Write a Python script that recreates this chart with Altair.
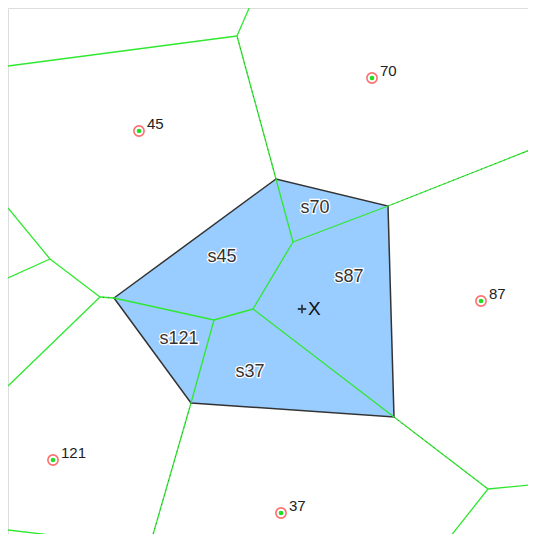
import altair as alt
import pandas as pd

# Data sites (natural neighbours) in map units
site_x = [139, 372, 481, 53, 281]
site_y = [131, 78, 301, 460, 513]
site_lab = ["45", "70", "87", "121", "37"]

# Query location X
qx = [302]
qy = [309]

# New Voronoi cell of X (stolen area polygon)
poly_x = [114, 276, 388, 394, 191]
poly_y = [298, 179, 206, 417, 403]

# Original Voronoi edges
seg_x1 = [276, 293, 293, 253, 253, 214, 214, 276, 237, 237, 388, 394, 488, 488, 114, 100, 50, 50, 100, 191, 8]
seg_y1 = [179, 242, 242, 309, 309, 320, 320, 179, 36, 36, 206, 417, 489, 489, 298, 297, 259, 259, 297, 403, 530]
seg_x2 = [293, 388, 253, 394, 214, 114, 191, 237, 250, 8, 540, 488, 540, 446, 100, 50, 8, 8, 8, 150, 110]
seg_y2 = [242, 206, 309, 417, 320, 298, 403, 36, 6, 66, 146, 489, 484, 542, 297, 259, 208, 278, 386, 545, 542]

# Edges shown with dark dots
dot_x1 = [276, 388, 394, 191, 114]
dot_y1 = [179, 206, 417, 403, 298]
dot_x2 = [237, 540, 488, 150, 100]
dot_y2 = [36, 146, 489, 545, 297]

# Stolen-area labels
cell_lab = ["s70", "s45", "s87", "s121", "s37"]
cell_x = [315, 222, 349, 179, 250]
cell_y = [208, 257, 277, 339, 372]

xs = alt.Scale(domain=[8, 528], nice=False, zero=False)
ys = alt.Scale(domain=[8, 534], nice=False, zero=False, reverse=True)

sites = pd.DataFrame({"x": site_x, "y": site_y, "lab": site_lab})
poly = pd.DataFrame({"x": poly_x + poly_x[:1], "y": poly_y + poly_y[:1],
                     "o": list(range(len(poly_x) + 1))})
segs = pd.DataFrame({"x": seg_x1, "y": seg_y1, "x2": seg_x2, "y2": seg_y2})
dots = pd.DataFrame({"x": dot_x1, "y": dot_y1, "x2": dot_x2, "y2": dot_y2})
cells = pd.DataFrame({"x": cell_x, "y": cell_y, "lab": cell_lab})
q = pd.DataFrame({"x": qx, "y": qy, "lab": ["X"]})

X = lambda: alt.X("x:Q", scale=xs, axis=None)
Y = lambda: alt.Y("y:Q", scale=ys, axis=None)

polygon = alt.Chart(poly).mark_line(
    fill="#99CCFF", stroke="#333333", strokeWidth=1.5, clip=True, interpolate="linear"
).encode(x=X(), y=Y(), order="o:Q")

green = alt.Chart(segs).mark_rule(color="#2FE82F", strokeWidth=1.3, clip=True).encode(
    x=X(), y=Y(), x2="x2:Q", y2="y2:Q")

dotted = alt.Chart(dots).mark_rule(color="#333333", strokeWidth=1, strokeDash=[1, 4],
                                   opacity=0.55, clip=True).encode(
    x=X(), y=Y(), x2="x2:Q", y2="y2:Q")

ring = alt.Chart(sites).mark_point(shape="circle", size=105, filled=False,
                                   color="#FF3030", strokeWidth=1.6).encode(x=X(), y=Y())
dot = alt.Chart(sites).mark_point(shape="circle", size=22, filled=True, opacity=1,
                                  color="#22DD22").encode(x=X(), y=Y())
site_text = alt.Chart(sites).mark_text(align="left", baseline="middle", dx=8, dy=-7,
                                       font="Liberation Sans", fontSize=15,
                                       color="#222222").encode(x=X(), y=Y(), text="lab:N")

halo = alt.Chart(cells).mark_text(align="center", baseline="middle", font="Liberation Sans",
                                  fontSize=18, stroke="white", strokeWidth=2.5,
                                  color="white").encode(x=X(), y=Y(), text="lab:N")
cell_text = alt.Chart(cells).mark_text(align="center", baseline="middle", font="Liberation Sans",
                                       fontSize=18, color="#333333").encode(
    x=X(), y=Y(), text="lab:N")

cross = alt.Chart(q).mark_point(shape="M-1,0L1,0M0,-1L0,1", size=70, filled=False,
                                color="black", strokeWidth=1.8).encode(x=X(), y=Y())
q_text = alt.Chart(q).mark_text(align="left", baseline="middle", dx=6, dy=0,
                                font="Liberation Sans", fontSize=19,
                                color="#111111").encode(x=X(), y=Y(), text="lab:N")

chart = alt.layer(polygon, green, dotted, ring, dot, site_text, halo, cell_text, cross, q_text).properties(
    width=520, height=526,
    autosize=alt.AutoSizeParams(type="fit", contains="padding"),
    padding=0,
).configure_view(stroke=None).configure(background="white")

chart.save("out.html", embed_options={"renderer": "svg", "actions": False})
